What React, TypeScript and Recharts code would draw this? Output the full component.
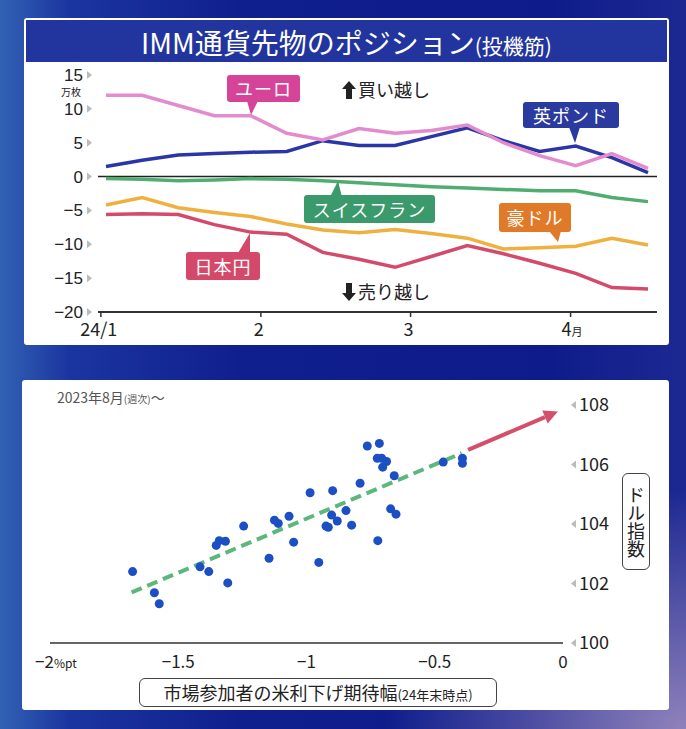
import React from 'react';
import { LineChart, Line, XAxis, YAxis, ReferenceLine, ScatterChart, Scatter } from 'recharts';

// top panel: IMM net speculative positions (10k contracts), weekly from 2024/1/2
const weekDays = [1, 8, 15, 22, 29, 36, 43, 50, 57, 64, 71, 78, 85, 92, 99, 106];
const euro = [12.0, 12.0, 10.5, 9.0, 9.0, 6.4, 5.4, 7.1, 6.4, 6.8, 7.6, 5.0, 3.1, 1.6, 3.4, 1.2];
const pound = [1.5, 2.4, 3.2, 3.4, 3.6, 3.7, 5.3, 4.6, 4.6, 5.9, 7.2, 5.3, 3.7, 4.5, 2.8, 0.6];
const franc = [-0.3, -0.4, -0.6, -0.5, -0.3, -0.4, -0.6, -0.9, -1.2, -1.5, -1.7, -1.9, -2.1, -2.1, -3.1, -3.7];
const aussie = [-4.2, -3.1, -4.6, -5.3, -5.9, -7.0, -7.9, -8.3, -7.8, -8.4, -9.1, -10.7, -10.5, -10.3, -9.1, -10.1];
const yen = [-5.6, -5.5, -5.6, -7.1, -8.2, -8.5, -11.2, -12.2, -13.4, -11.8, -10.2, -11.4, -12.8, -14.3, -16.4, -16.6];

const monthTicks = [0, 31, 60, 91];
const monthLabels = ['24/1', '2', '3', '4'];
const positionTicks = [-20, -15, -10, -5, 0, 5, 10, 15];

// bottom panel: expected Fed cuts by end-24 (%pt) vs dollar index, weekly since 2023/8
const cutWidth = [-1.678, -1.593, -1.574, -1.415, -1.381, -1.307, -1.352, -1.34, -1.316, -1.245, -1.146, -1.125, -1.11, -1.068, -1.05, -0.986, -0.952, -0.924, -0.915, -0.902, -0.898, -0.88, -0.846, -0.824, -0.791, -0.763, -0.716, -0.724, -0.707, -0.688, -0.703, -0.722, -0.672, -0.651, -0.658, -0.467, -0.392, -0.392];
const dollarIndex = [102.4, 101.69, 101.32, 102.56, 102.4, 102.02, 103.28, 103.44, 103.42, 103.93, 102.85, 104.13, 104.02, 104.26, 103.39, 105.05, 102.71, 103.93, 103.89, 104.3, 105.12, 104.1, 104.45, 103.96, 105.37, 106.62, 106.71, 106.21, 106.21, 106.1, 105.91, 103.44, 104.51, 104.33, 105.62, 106.08, 106.21, 106.04];
const trendX = [-1.682, -0.395];
const trendY = [101.7, 106.38];
const arrowX = [-0.37, -0.02];
const arrowY = [106.49, 107.78];

const rateTicks = [-2, -1.5, -1, -0.5, 0];
const rateLabels = ['−2', '−1.5', '−1', '−0.5', '0'];
const indexTicks = [100, 102, 104, 106, 108];

const positionRows = weekDays.map((day, i) => ({
  day,
  euro: euro[i],
  pound: pound[i],
  franc: franc[i],
  aussie: aussie[i],
  yen: yen[i],
}));
const scatterRows = cutWidth.map((x, i) => ({ x, y: dollarIndex[i] }));

const FONT = '"Noto Sans CJK JP", "Noto Sans", sans-serif';

const minus = (v: number) => (v < 0 ? '−' + Math.abs(v) : String(v));

// Liberation Sans here: tighter line box leaves room for the 万枚 unit between 15 and 10
const PositionTick = ({ x, y, payload }: any) => (
  <g>
    <text x={x - 15} y={y} dy={6} textAnchor="end" fontSize={17} fill="#222" fontFamily='"Liberation Sans", sans-serif'>
      {minus(payload.value)}
    </text>
    <polygon points={`${x - 11},${y - 4} ${x - 11},${y + 4} ${x - 6},${y}`} fill="#bbb" />
  </g>
);

const MonthTick = ({ x, y, index }: any) => {
  if (index === 3) {
    return (
      <text x={x - 9} y={y} dy={17} textAnchor="start" fontSize={18} fill="#222">
        4<tspan fontSize={11}>月</tspan>
      </text>
    );
  }
  return (
    <text x={x - 2} y={y} dy={17} textAnchor="middle" fontSize={18} fill="#222">
      {monthLabels[index]}
    </text>
  );
};

const RateTick = ({ x, y, index }: any) => {
  if (index === 0) {
    return (
      <text x={x - 15} y={y} dy={25} textAnchor="start" fontSize={17} fill="#222">
        −2<tspan fontSize={12}>%pt</tspan>
      </text>
    );
  }
  return (
    <text x={x} y={y} dy={25} textAnchor="middle" fontSize={17} fill="#222">
      {rateLabels[index]}
    </text>
  );
};

const IndexTick = ({ x, y, payload }: any) => (
  <g>
    <polygon points={`${x + 8},${y} ${x + 13},${y - 4} ${x + 13},${y + 4}`} fill="#bbb" />
    <text x={x + 16} y={y} dy={6} textAnchor="start" fontSize={18} fill="#222">
      {payload.value}
    </text>
  </g>
);

const ArrowShape = (p: any) => {
  const { x1, y1, x2, y2 } = p;
  const ang = Math.atan2(y2 - y1, x2 - x1);
  const len = 14;
  const w = 7;
  const bx = x2 - len * Math.cos(ang);
  const by = y2 - len * Math.sin(ang);
  const px = -Math.sin(ang) * w;
  const py = Math.cos(ang) * w;
  return (
    <g>
      <line x1={x1} y1={y1} x2={bx} y2={by} stroke="#d4506a" strokeWidth={4} />
      <polygon points={`${x2},${y2} ${bx + px},${by + py} ${bx - px},${by - py}`} fill="#d4506a" />
    </g>
  );
};

const Callout = ({ left, top, width, height, bg, text }: any) => (
  <div
    style={{
      position: 'absolute',
      left,
      top,
      width,
      height,
      background: bg,
      color: '#fff',
      borderRadius: 3,
      fontSize: 18,
      lineHeight: `${height}px`,
      textAlign: 'center',
      letterSpacing: 1,
    }}
  >
    {text}
  </div>
);

const BigArrow = ({ up }: { up: boolean }) => (
  <svg width={14} height={18} style={{ verticalAlign: -2, marginRight: 2 }}>
    {up ? (
      <polygon points="7,0 14,8 10,8 10,18 4,18 4,8 0,8" fill="#222" />
    ) : (
      <polygon points="7,18 14,10 10,10 10,0 4,0 4,10 0,10" fill="#222" />
    )}
  </svg>
);

export default function App() {
  return (
    <div
      style={{
        position: 'absolute',
        left: 0,
        top: 0,
        width: 686,
        height: 729,
        overflow: 'hidden',
        fontFamily: FONT,
        background:
          'radial-gradient(ellipse 300px 240px at 100% 100%, rgba(150,135,190,0.95) 0%, rgba(150,135,190,0) 100%), linear-gradient(90deg, #3262b4 0%, #1b35a0 10%, #101f8e 35%, #0e1c8b 80%, #1c2892 100%)',
      }}
    >
      {/* top panel */}
      <div style={{ position: 'absolute', left: 24, top: 18, width: 645, height: 327, background: '#fff', borderRadius: 3 }} />
      <div
        style={{
          position: 'absolute',
          left: 26,
          top: 20,
          width: 641,
          height: 42,
          background: '#22359e',
          color: '#fff',
          fontSize: 28,
          lineHeight: '44px',
          textAlign: 'center',
          whiteSpace: 'nowrap',
        }}
      >
        IMM通貨先物のポジション<span style={{ fontSize: 21 }}>(投機筋)</span>
      </div>
      <div style={{ position: 'absolute', left: 0, top: 0 }}>
        <LineChart width={686} height={360} data={positionRows} margin={{ top: 75, right: 29, bottom: 18, left: 58 }}>
          <XAxis
            type="number"
            dataKey="day"
            domain={[-0.55, 107.74]}
            ticks={monthTicks}
            tick={<MonthTick />}
            axisLine={{ stroke: '#333', strokeWidth: 2 }}
            tickLine={{ stroke: '#333', strokeWidth: 1.5 }}
            tickSize={5}
            tickMargin={2}
            height={30}
          />
          <YAxis
            type="number"
            domain={[-20, 15]}
            ticks={positionTicks}
            tick={<PositionTick />}
            axisLine={false}
            tickLine={false}
            tickSize={0}
            tickMargin={0}
            width={40}
          />
          <ReferenceLine y={0} stroke="#222" strokeWidth={1.5} />
          <Line dataKey="franc" stroke="#4fae6f" strokeWidth={3.5} dot={false} isAnimationActive={false} />
          <Line dataKey="aussie" stroke="#f0b040" strokeWidth={3.5} dot={false} isAnimationActive={false} />
          <Line dataKey="yen" stroke="#d34a6b" strokeWidth={3.5} dot={false} isAnimationActive={false} />
          <Line dataKey="pound" stroke="#2b36a6" strokeWidth={3.5} dot={false} isAnimationActive={false} />
          <Line dataKey="euro" stroke="#e38ccd" strokeWidth={3.5} dot={false} isAnimationActive={false} />
        </LineChart>
      </div>
      <div style={{ position: 'absolute', left: 61, top: 87, fontSize: 10, lineHeight: '10px', color: '#222' }}>万枚</div>
      <div style={{ position: 'absolute', left: 342, top: 76, fontSize: 18, color: '#222' }}>
        <BigArrow up />
        買い越し
      </div>
      <div style={{ position: 'absolute', left: 342, top: 278, fontSize: 18, color: '#222' }}>
        <BigArrow up={false} />
        売り越し
      </div>
      <svg width={686} height={360} style={{ position: 'absolute', left: 0, top: 0, pointerEvents: 'none' }}>
        <polygon points="247,101 258,101 251,115" fill="#d6449a" />
        <polygon points="569,127 580,127 575,143" fill="#2a3a9e" />
        <polygon points="330,197 342,197 338,181" fill="#3b9a6b" />
        <polygon points="549,231 561,231 558,242" fill="#e07a28" />
        <polygon points="238,253 250,253 250,233" fill="#d4486a" />
      </svg>
      <Callout left={227} top={75} width={73} height={27} bg="#d6449a" text="ユーロ" />
      <Callout left={523} top={102} width={96} height={26} bg="#2a3a9e" text="英ポンド" />
      <Callout left={304} top={195} width={131} height={28} bg="#3b9a6b" text="スイスフラン" />
      <Callout left={499} top={203} width={72} height={29} bg="#e07a28" text="豪ドル" />
      <Callout left={186} top={252} width={74} height={28} bg="#d4486a" text="日本円" />

      {/* bottom panel */}
      <div style={{ position: 'absolute', left: 22, top: 380, width: 647, height: 330, background: '#fff', borderRadius: 3 }} />
      <div style={{ position: 'absolute', left: 57, top: 387, fontSize: 14, color: '#555' }}>
        2023年8月<span style={{ fontSize: 10 }}>(週次)</span>〜
      </div>
      <div style={{ position: 'absolute', left: 0, top: 380 }}>
        <ScatterChart width={686} height={330} margin={{ top: 25, right: 63, bottom: 37, left: 50 }}>
          <XAxis
            type="number"
            dataKey="x"
            domain={[-2, 0]}
            ticks={rateTicks}
            tick={<RateTick />}
            axisLine={{ stroke: '#333', strokeWidth: 1.5 }}
            tickLine={false}
            tickSize={0}
            tickMargin={0}
            height={30}
          />
          <YAxis
            type="number"
            dataKey="y"
            orientation="right"
            domain={[100, 108]}
            ticks={indexTicks}
            tick={<IndexTick />}
            axisLine={false}
            tickLine={false}
            tickSize={0}
            tickMargin={0}
            width={60}
          />
          <Scatter
            data={scatterRows}
            fill="#1d4fc4"
            isAnimationActive={false}
            shape={(p: any) => <circle cx={p.cx} cy={p.cy} r={4.5} fill="#1d4fc4" />}
          />
          <ReferenceLine
            segment={[
              { x: trendX[0], y: trendY[0] },
              { x: trendX[1], y: trendY[1] },
            ]}
            stroke="#5cb77a"
            strokeWidth={4}
            strokeDasharray="11 6"
          />
          <ReferenceLine
            segment={[
              { x: arrowX[0], y: arrowY[0] },
              { x: arrowX[1], y: arrowY[1] },
            ]}
            stroke="#d4506a"
            shape={ArrowShape}
          />
        </ScatterChart>
      </div>
      <div
        style={{
          position: 'absolute',
          left: 622,
          top: 473,
          width: 26,
          height: 95,
          border: '1.5px solid #444',
          borderRadius: 6,
          fontSize: 18,
          color: '#222',
          writingMode: 'vertical-rl',
          textAlign: 'center',
          lineHeight: '26px',
          background: '#fff',
        }}
      >
        ドル指数
      </div>
      <div
        style={{
          position: 'absolute',
          left: 139,
          top: 678,
          width: 356,
          height: 27,
          border: '1.5px solid #444',
          borderRadius: 6,
          fontSize: 18,
          color: '#222',
          textAlign: 'center',
          lineHeight: '27px',
          background: '#fff',
        }}
      >
        市場参加者の米利下げ期待幅<span style={{ fontSize: 13 }}>(24年末時点)</span>
      </div>
    </div>
  );
}
